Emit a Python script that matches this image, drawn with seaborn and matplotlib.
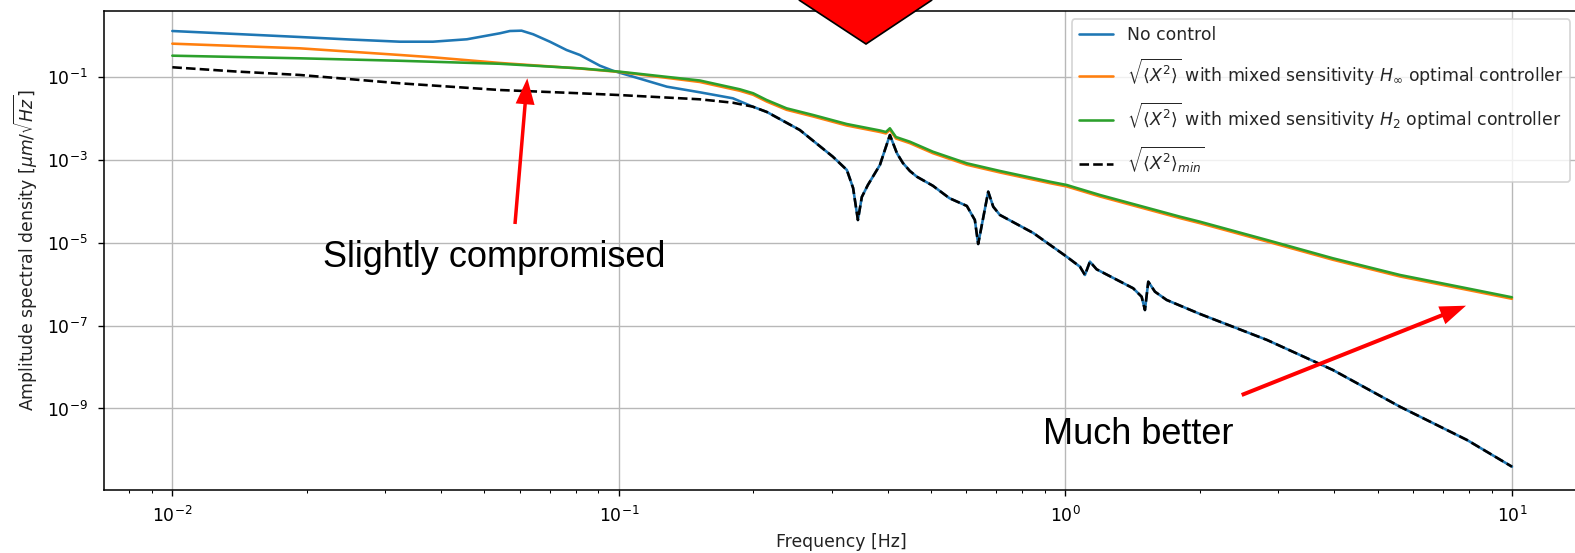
import numpy as np
import pandas as pd
import matplotlib
matplotlib.use("Agg")
import matplotlib.pyplot as plt
from matplotlib.patches import FancyArrow, Polygon
from matplotlib.ticker import NullLocator
import seaborn as sns

# ---------------- data ----------------
# minimum achievable ASD  sqrt(<X^2>)_min
min_f = [0.01, 0.01388, 0.0193, 0.03232, 0.05414, 0.08178, 0.1, 0.1518, 0.18, 0.1995,
         0.2145, 0.2542, 0.3014, 0.3240, 0.3346, 0.3430, 0.3500, 0.3611, 0.3842, 0.3942,
         0.4045, 0.4195, 0.4325, 0.4484, 0.4648, 0.5048, 0.55, 0.6015, 0.6269, 0.6377,
         0.6716, 0.6892, 0.7134, 0.8472, 1.0062, 1.0778, 1.1059, 1.1347, 1.1745, 1.4185,
         1.4815, 1.5070, 1.5329, 1.5868, 1.6856, 2.0011, 2.8276, 3.9721, 5.6130, 7.9305, 10.0]
min_asd = [0.1746, 0.1380, 0.1138, 0.0716, 0.0493, 0.0411, 0.0373, 0.0294, 0.0243, 0.0195,
           0.01452, 0.00533, 1.208e-3, 5.77e-4, 2.12e-4, 3.57e-5, 1.285e-4, 2.506e-4, 7.62e-4, 1.754e-3,
           4.036e-3, 1.459e-3, 8.51e-4, 5.46e-4, 3.97e-4, 2.40e-4, 1.20e-4, 7.8e-5, 3.57e-5, 9.40e-6,
           1.726e-4, 7.48e-5, 4.72e-5, 1.734e-5, 4.65e-6, 2.66e-6, 1.679e-6, 3.52e-6, 2.30e-6, 8.00e-7,
           5.01e-7, 2.39e-7, 1.156e-6, 6.62e-7, 4.18e-7, 1.919e-7, 4.52e-8, 8.51e-9, 1.104e-9, 1.734e-10, 3.93e-11]

# no control: own shape below 0.2 Hz, coincides with the minimum above
nocontrol_f_low = [0.01, 0.01388, 0.0193, 0.02497, 0.03232, 0.03833, 0.04566, 0.05414, 0.05700,
                   0.06054, 0.06428, 0.07006, 0.07635, 0.08178, 0.09068, 0.09696, 0.1281,
                   0.1518, 0.18]
nocontrol_asd_low = [1.312, 1.112, 0.940, 0.818, 0.724, 0.724, 0.828, 1.156, 1.312,
                     1.337, 1.094, 0.724, 0.456, 0.346, 0.1905, 0.1442, 0.0593,
                     0.0434, 0.0311]
split = min_f.index(0.1995)
nocontrol_f = nocontrol_f_low + min_f[split:]
nocontrol_asd = nocontrol_asd_low + min_asd[split:]

# mixed sensitivity H2 controller
h2_f = [0.01, 0.0193, 0.03232, 0.05414, 0.08178, 0.1005, 0.1518, 0.1866, 0.1999, 0.2142,
        0.2374, 0.2724, 0.3236, 0.3842, 0.3963, 0.4045, 0.4173, 0.4484, 0.5048, 0.6015,
        0.7134, 0.9232, 1.0062, 1.195, 1.8053, 2.0011, 2.8276, 3.9721, 5.613, 7.9305, 10.0]
h2_asd = [0.3327, 0.2877, 0.2506, 0.212, 0.1648, 0.1365, 0.0837, 0.0513, 0.0411, 0.0283,
          0.01782, 0.01227, 0.00745, 0.00519, 0.00478, 0.00586, 0.00361, 0.00278, 1.596e-3, 8.37e-4,
          5.46e-4, 3.006e-4, 2.506e-4, 1.435e-4, 4.30e-5, 3.25e-5, 1.175e-5, 4.25e-6, 1.679e-6, 8.00e-7, 4.85e-7]

# mixed sensitivity H-infinity controller
hinf_f = [0.01, 0.0193, 0.03232, 0.03833, 0.05414, 0.08178, 0.1005, 0.1518, 0.1866, 0.1999,
          0.2142, 0.2374, 0.2724, 0.3236, 0.3842, 0.3963, 0.4045, 0.4173, 0.4484, 0.5048,
          0.6015, 0.7134, 0.9232, 1.0062, 1.195, 1.8053, 2.0011, 2.8276, 3.9721, 5.613, 7.9305, 10.0]
hinf_asd = [0.649, 0.501, 0.346, 0.304, 0.222, 0.163, 0.134, 0.0770, 0.0472, 0.0378,
            0.0260, 0.01639, 0.01129, 0.00685, 0.00477, 0.00440, 0.00539, 0.00332, 0.00256, 1.468e-3,
            7.70e-4, 5.02e-4, 2.77e-4, 2.31e-4, 1.32e-4, 3.96e-5, 2.99e-5, 1.08e-5, 3.91e-6, 1.545e-6, 7.36e-7, 4.46e-7]

labels = [
    "No control",
    r"$\sqrt{\langle X^2\rangle}$ with mixed sensitivity $H_\infty$ optimal controller",
    r"$\sqrt{\langle X^2\rangle}$ with mixed sensitivity $H_2$ optimal controller",
    r"$\sqrt{\langle X^2\rangle_{min}}$",
]
xticks = [1e-2, 1e-1, 1e0, 1e1]
yticks = [1e-1, 1e-3, 1e-5, 1e-7, 1e-9]

# ---------------- style ----------------
sns.set_style("ticks")
plt.rcParams["font.family"] = ["DejaVu Sans"]
plt.rcParams["font.size"] = 10
plt.rcParams["axes.edgecolor"] = "black"
plt.rcParams["xtick.color"] = "black"
plt.rcParams["ytick.color"] = "black"
plt.rcParams["axes.labelcolor"] = "#222222"

DPI = 124
fig = plt.figure(figsize=(1575 / DPI, 553 / DPI), dpi=DPI)
ax = fig.add_axes([104 / 1575, 1 - 490 / 553, 1475 / 1575, 479.3 / 553])

df_nc = pd.DataFrame({"f": nocontrol_f, "asd": nocontrol_asd})
df_hi = pd.DataFrame({"f": hinf_f, "asd": hinf_asd})
df_h2 = pd.DataFrame({"f": h2_f, "asd": h2_asd})
df_mn = pd.DataFrame({"f": min_f, "asd": min_asd})

sns.lineplot(data=df_nc, x="f", y="asd", ax=ax, color="#1f77b4", lw=1.5, label=labels[0])
sns.lineplot(data=df_hi, x="f", y="asd", ax=ax, color="#ff7f0e", lw=1.5, label=labels[1])
sns.lineplot(data=df_h2, x="f", y="asd", ax=ax, color="#2ca02c", lw=1.5, label=labels[2])
sns.lineplot(data=df_mn, x="f", y="asd", ax=ax, color="black", lw=1.5, ls="--", label=labels[3])

ax.set_xscale("log")
ax.set_yscale("log")
ax.set_xlim(7.03e-3, 14.13)
ax.set_ylim(1.074e-11, 4.06)
ax.set_xticks(xticks)
ax.set_yticks(yticks)
ax.yaxis.set_minor_locator(NullLocator())
ax.grid(True, which="major", color="#b8b8b8", lw=0.8)
ax.tick_params(labelsize=10)
ax.tick_params(which="major", pad=5.8)
ax.set_xlabel("Frequency [Hz]", fontsize=10)
ax.set_ylabel(r"Amplitude spectral density [$\mu m/\sqrt{Hz}$]", fontsize=10)
for s in ax.spines.values():
    s.set_linewidth(0.9)
ax.legend(loc="upper right", fontsize=10, frameon=True, labelspacing=0.75)

# ---------------- slide annotations (overlay in pixel units) ----------------
ov = fig.add_axes([0, 0, 1, 1], zorder=10)
ov.set_xlim(0, 1575)
ov.set_ylim(553, 0)
ov.axis("off")
ov.patch.set_alpha(0)

ov.add_patch(Polygon([(799, 0), (866, 44), (932, 0), (866, -44)], closed=True,
                     facecolor="#ff0000", edgecolor="black", lw=1.0, clip_on=False))
ov.add_patch(FancyArrow(515, 224, 12.3, -145.7, width=3.5, head_width=19, head_length=26,
                        length_includes_head=True, color="#ff0000", lw=0))
ov.add_patch(FancyArrow(1241.7, 395, 224.3, -89.3, width=4, head_width=19, head_length=26,
                        length_includes_head=True, color="#ff0000", lw=0))
ov.text(323, 266.7, "Slightly compromised", fontsize=21, family="Liberation Sans",
        ha="left", va="baseline", color="black")
ov.text(1043, 444.3, "Much better", fontsize=21, family="Liberation Sans",
        ha="left", va="baseline", color="black")

fig.savefig("out.png", dpi=DPI)
